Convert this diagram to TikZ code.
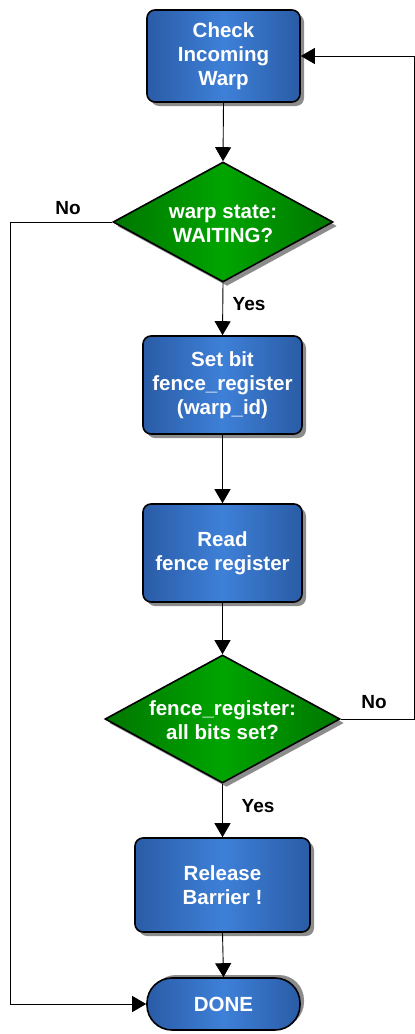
\documentclass[tikz,border=0pt]{standalone}
\usepackage{fontspec}
\setmainfont{Liberation Sans}
\usetikzlibrary{shapes.geometric,shadows,arrows.meta}
\definecolor{blueedge}{RGB}{42,92,166}
\definecolor{bluemid}{RGB}{62,128,216}
\definecolor{greenedge}{RGB}{0,118,0}
\definecolor{greenmid}{RGB}{0,164,0}
\tikzset{
  boxtext/.style={font=\bfseries\fontsize{20.5}{24}\selectfont, text=white, align=center},
  procbox/.style={draw=black, line width=1.6pt, rounded corners=8pt,
    left color=blueedge, right color=blueedge, middle color=bluemid,
    drop shadow={shadow xshift=4pt, shadow yshift=-4pt, fill=gray!90, opacity=1},
    boxtext},
  decision/.style={shape=diamond, draw=black, line width=1.6pt, inner sep=0pt,
    left color=greenedge, right color=greenedge, middle color=greenmid,
    drop shadow={shadow xshift=4pt, shadow yshift=-4pt, fill=gray!90, opacity=1}},
  terminal/.style={draw=black, line width=1.6pt, rounded corners=25pt,
    left color=blueedge, right color=blueedge, middle color=bluemid,
    drop shadow={shadow xshift=4pt, shadow yshift=3pt, fill=gray!90, opacity=1},
    boxtext},
  flow/.style={line width=0.9pt, -{Triangle[length=14pt,width=16pt]}},
  branch/.style={font=\bfseries\fontsize{19}{20}\selectfont, text=black}
}
\begin{document}
\begin{tikzpicture}[x=1pt,y=-1pt]
  \useasboundingbox (0,0) rectangle (415,1034);

  % process steps
  \node[procbox, minimum width=153pt, minimum height=92pt] (check) at (223.5,56)
    {Check\\Incoming\\Warp};
  \node[decision, minimum width=220pt, minimum height=120pt] (waiting) at (223,222) {};
  \node[boxtext] (waitingtext) at (223,224) {warp state:\\WAITING?};
  \node[procbox, minimum width=159pt, minimum height=98pt] (setbit) at (222.5,385)
    {Set bit\\fence\_register\\(warp\_id)};
  \node[procbox, minimum width=159pt, minimum height=98pt] (readreg) at (222.5,553)
    {Read\\fence register};
  \node[decision, minimum width=235pt, minimum height=128pt] (allset) at (222.5,719) {};
  \node[boxtext] (allsettext) at (222.5,720) {fence\_register:\\all bits set?};
  \node[procbox, minimum width=175pt, minimum height=94pt] (release) at (222.5,885)
    {Release\\Barrier !};
  \node[terminal, minimum width=153pt, minimum height=52pt] (done) at (223.5,1004)
    {DONE};

  % side rails for the loop-back lines
  \coordinate (leftrail) at (10,0);
  \coordinate (rightrail) at (414.5,0);

  % main flow
  \draw[flow] (check.south) -- (waiting.north);
  \draw[flow] (waiting.south) -- (setbit.north);
  \draw[flow] (setbit.south) -- (readreg.north);
  \draw[flow] (readreg.south) -- (allset.north);
  \draw[flow] (allset.south) -- (release.north);
  \draw[flow] (release.south) -- (done.north);

  % branches
  \draw[flow] (waiting.west) -- (waiting.west -| leftrail) |- (done.west);
  \draw[flow] (allset.east) -- (allset.east -| rightrail) |- (check.east);

  % branch labels
  \node[branch] (nowait) at (68,208) {No};
  \node[branch] (yeswait) at (249,304) {Yes};
  \node[branch] (noset) at (374,702) {No};
  \node[branch] (yesset) at (258,806) {Yes};
\end{tikzpicture}
\end{document}
